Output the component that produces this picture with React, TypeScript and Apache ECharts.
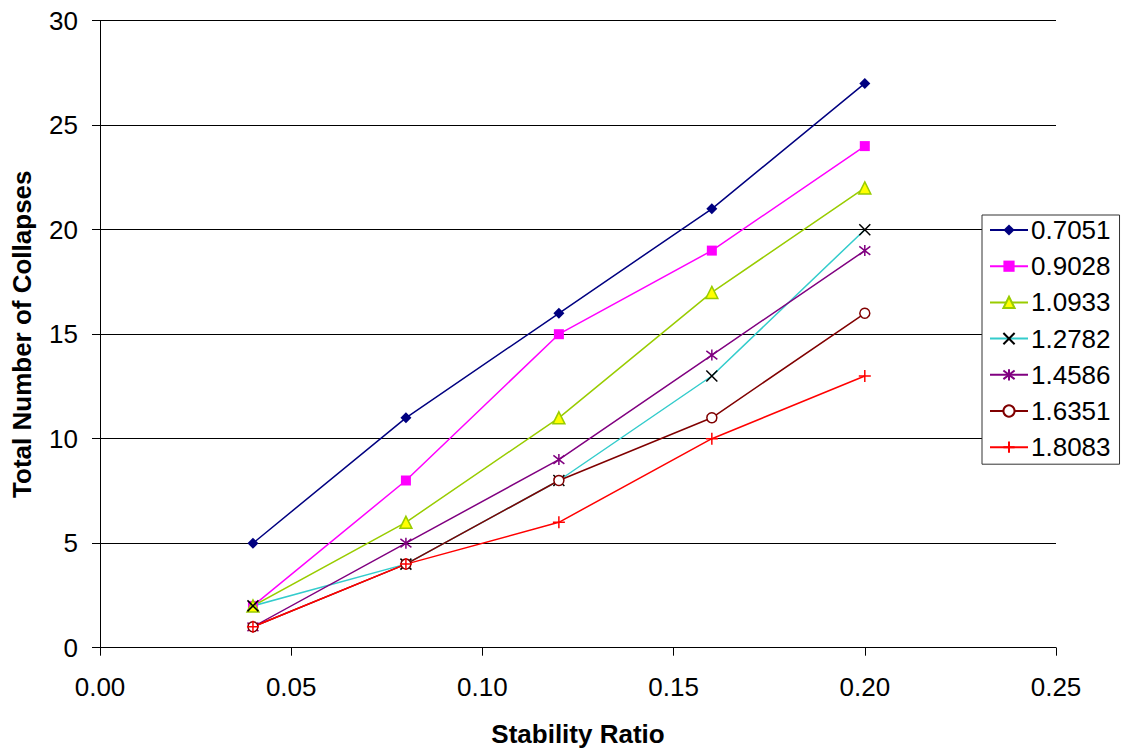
import React, { useEffect, useRef } from "react";
import * as echarts from "echarts";

const xValues = [0.04, 0.08, 0.12, 0.16, 0.2];
const seriesNames = ["0.7051", "0.9028", "1.0933", "1.2782", "1.4586", "1.6351", "1.8083"];
const s0 = [5, 11, 16, 21, 27];
const s1 = [2, 8, 15, 19, 24];
const s2 = [2, 6, 11, 17, 22];
const s3 = [2, 4, 8, 13, 20];
const s4 = [1, 5, 9, 14, 19];
const s5 = [1, 4, 8, 11, 16];
const s6 = [1, 4, 6, 10, 13];
const seriesValues = [s0, s1, s2, s3, s4, s5, s6];

const FONT = "'Liberation Sans', Arial, sans-serif";

const styles = [
  { line: "#000080", symbol: "diamond", size: 11, fill: "#000080", border: "#000080", bw: 0 },
  { line: "#FF00FF", symbol: "rect", size: 10, fill: "#FF00FF", border: "#FF00FF", bw: 0 },
  { line: "#99CC00", symbol: "triangle", size: 12, fill: "#FFFF00", border: "#99CC00", bw: 1.5 },
  { line: "#33CCCC", symbol: "path://M0 0L10 10M10 0L0 10", size: 11, fill: "none", border: "#000000", bw: 1.5 },
  { line: "#800080", symbol: "path://M0 0L10 10M10 0L0 10M5 -1.5L5 11.5", size: 11, fill: "none", border: "#800080", bw: 1.5 },
  { line: "#800000", symbol: "circle", size: 10, fill: "#FFFFFF", border: "#800000", bw: 1.5 },
  { line: "#FF0000", symbol: "path://M5 0L5 10M0 5L10 5", size: 12, fill: "none", border: "#FF0000", bw: 1.5 },
];

export default function App() {
  const ref = useRef<HTMLDivElement>(null);
  useEffect(() => {
    if (!ref.current) return;
    const chart = echarts.init(ref.current, null, { renderer: "svg" });
    chart.setOption({
      animation: false,
      backgroundColor: "#ffffff",
      grid: { left: 100, right: 71, top: 20.7, bottom: 103.3, containLabel: false, outerBoundsMode: "none" },
      legend: {
        orient: "vertical",
        left: 982,
        top: 215,
        padding: [2, 9, 4, 7],
        itemWidth: 38,
        itemHeight: 14,
        itemGap: 10.2,
        backgroundColor: "#ffffff",
        borderColor: "#333333",
        borderWidth: 1,
        borderRadius: 0,
        textStyle: { fontFamily: FONT, fontSize: 26, color: "#000", padding: [0, 0, 0, -2] },
        data: seriesNames,
      },
      xAxis: {
        type: "value",
        min: 0,
        max: 0.25,
        interval: 0.05,
        name: "Stability Ratio",
        nameLocation: "middle",
        nameGap: 73,
        nameTextStyle: { fontFamily: FONT, fontSize: 26, fontWeight: "bold", color: "#000" },
        axisLine: { show: true, onZero: false, lineStyle: { color: "#000", width: 1 } },
        axisTick: { show: true, length: 8, inside: false, lineStyle: { color: "#000" } },
        axisLabel: {
          fontFamily: FONT,
          fontSize: 26,
          color: "#000",
          margin: 26,
          formatter: (v: number) => v.toFixed(2),
        },
        splitLine: { show: false },
      },
      yAxis: {
        type: "value",
        min: 0,
        max: 30,
        interval: 5,
        name: "Total Number of Collapses",
        nameLocation: "middle",
        nameGap: 65,
        nameRotate: 90,
        nameTextStyle: { fontFamily: FONT, fontSize: 26, fontWeight: "bold", color: "#000" },
        axisLine: { show: true, lineStyle: { color: "#000", width: 1 } },
        axisTick: { show: true, length: 8, inside: false, lineStyle: { color: "#000" } },
        axisLabel: { fontFamily: FONT, fontSize: 26, color: "#000", margin: 22 },
        splitLine: { show: true, lineStyle: { color: "#000", width: 1 } },
      },
      series: seriesNames.map((name, i) => ({
        name,
        type: "line",
        data: xValues.map((x, j) => [x, seriesValues[i][j]]),
        symbol: styles[i].symbol,
        symbolSize: styles[i].size,
        showAllSymbol: true,
        color: styles[i].line,
        lineStyle: { color: styles[i].line, width: 1.5 },
        itemStyle: { color: styles[i].fill, borderColor: styles[i].border, borderWidth: styles[i].bw },
        emphasis: { disabled: true },
      })),
    });
    return () => chart.dispose();
  }, []);
  return (
    <div
      ref={ref}
      style={{ position: "absolute", left: 0, top: 0, width: 1127, height: 751 }}
    />
  );
}
